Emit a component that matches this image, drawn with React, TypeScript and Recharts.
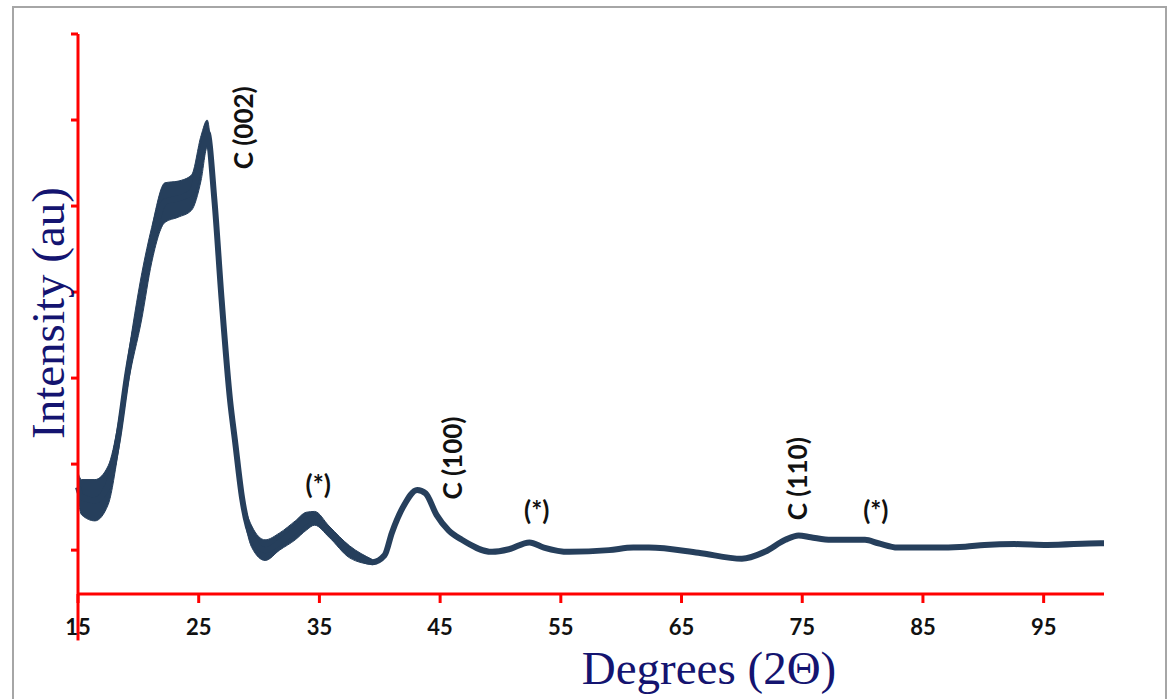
import React from "react";
import {
  ComposedChart,
  Line,
  Area,
  XAxis,
  YAxis,
  ReferenceDot,
  ReferenceLine,
} from "recharts";

// 2-theta positions (degrees)
const twoTheta = [
  15, 15.3, 16.4, 17.5, 18.3, 19.1, 20.3, 21.1, 22.2, 23.3, 24.4, 25.2, 25.7,
  26.3, 26.9, 27.6, 28.0, 28.6, 29.4, 30.5, 31.7, 33.0, 33.9, 34.6, 35.8, 37.5,
  39.4, 40.4, 41.0, 42.0, 43.1, 43.8, 44.7, 45.7, 46.8, 49.3, 50.7, 52.4, 53.6,
  55.7, 59.0, 61.0, 62.3, 66.4, 70.0, 71.9, 73.6, 74.7, 75.7, 77.4, 80.2, 81.3,
  82.9, 85.7, 88.5, 90.1, 92.6, 95.3, 99.7, 100,
];

// measured intensity (arbitrary units)
const intensity = [
  73, 62, 58, 76, 128, 206, 296, 355, 405, 409, 416, 456, 486, 407, 291, 174,
  128, 60, 15, 0, 9, 23, 34, 37, 22, -1, -14, -6, 20, 52, 70, 66, 41, 23, 12,
  -2, 1, 9, 3, -2, 0, 3, 3, -3, -10, -2, 12, 17, 15, 12, 12, 8, 3, 3, 4, 6, 7,
  6, 8, 8,
];

// noise envelope of the raw scan, low-angle region (first 27 points)
const noiseHigh = [
  90, 82, 82, 98, 145, 221, 323, 375, 427, 429, 436, 482, 500, 416, 297, 180,
  134, 67, 28, 12, 20, 34, 44, 45, 28, 5, -11,
];
const noiseLow = [
  58, 41, 34, 53, 111, 189, 270, 334, 381, 387, 395, 430, 468, 398, 284, 169,
  122, 53, 3, -12, 0, 12, 23, 29, 15, -9, -17,
];

const xTicks = [15, 25, 35, 45, 55, 65, 75, 85, 95];
const yTicks = [0, 100, 200, 300, 400, 500, 600];

const peakLabels = [
  { x: 28.67, y: 491, text: "C (002)", vertical: true },
  { x: 34.9, y: 77, text: "(*)", vertical: false },
  { x: 46.0, y: 107, text: "C (100)", vertical: true },
  { x: 53.0, y: 47, text: "(*)", vertical: false },
  { x: 74.6, y: 83, text: "C (110)", vertical: true },
  { x: 81.1, y: 47, text: "(*)", vertical: false },
];

const data = twoTheta.map((t, i) => ({
  t,
  v: intensity[i],
  band: i < noiseHigh.length ? [noiseLow[i], noiseHigh[i]] : null,
}));

const RED = "#ff0000";
const LINE = "#263f5c";

function XTick(props: any) {
  const { x, y, payload } = props;
  return (
    <text
      x={x}
      y={y + 30}
      textAnchor="middle"
      fontFamily="Lato, 'Open Sans', sans-serif"
      fontWeight="bold"
      fontSize={22}
      fill="#111"
    >
      {payload.value}
    </text>
  );
}

function NoTick() {
  return <g />;
}

function PeakText(props: any) {
  const { cx, cy, text, vertical } = props;
  return (
    <text
      x={cx}
      y={cy}
      transform={vertical ? `rotate(-90 ${cx} ${cy})` : undefined}
      textAnchor="middle"
      dominantBaseline="central"
      fontFamily="Lato, 'Open Sans', sans-serif"
      fontWeight="bold"
      fontSize={26}
      fill="#111"
    >
      {text}
    </text>
  );
}

export default function App() {
  return (
    <div style={{ position: "absolute", left: 0, top: 0, width: 1167, height: 699, background: "#fff", overflow: "hidden" }}>
      <div
        style={{
          position: "absolute",
          left: 12,
          top: 6,
          width: 1151,
          height: 720,
          border: "2px solid #a6a6a6",
        }}
      />
      <ComposedChart
        width={1167}
        height={699}
        data={data}
        margin={{ top: 34, right: 63, bottom: 55, left: 68 }}
        style={{ position: "absolute", left: 0, top: 0 }}
      >
        <XAxis
          dataKey="t"
          type="number"
          domain={[15, 100]}
          ticks={xTicks}
          height={50}
          axisLine={{ stroke: RED, strokeWidth: 3 }}
          tickLine={{ stroke: RED, strokeWidth: 3 }}
          tickSize={9}
          tick={<XTick />}
          interval={0}
        />
        <YAxis
          type="number"
          domain={[-51, 600]}
          ticks={yTicks}
          width={10}
          axisLine={{ stroke: RED, strokeWidth: 3 }}
          tickLine={{ stroke: RED, strokeWidth: 3 }}
          tickSize={7}
          tick={<NoTick />}
          allowDataOverflow
        />
        <ReferenceLine
          segment={[
            { x: 15, y: -51 },
            { x: 15, y: -105 },
          ]}
          stroke={RED}
          strokeWidth={3}
          ifOverflow="visible"
        />
        <Area
          dataKey="band"
          type="monotone"
          stroke={LINE}
          strokeWidth={1}
          fill={LINE}
          fillOpacity={1}
          isAnimationActive={false}
          connectNulls={false}
          activeDot={false}
        />
        <Line
          dataKey="v"
          stroke={LINE}
          strokeWidth={6}
          dot={false}
          type="monotone"
          isAnimationActive={false}
          activeDot={false}
        />
        {peakLabels.map((p) => (
          <ReferenceDot
            key={p.text + p.x}
            x={p.x}
            y={p.y}
            r={0}
            ifOverflow="visible"
            shape={(sp: any) => <PeakText {...sp} text={p.text} vertical={p.vertical} />}
          />
        ))}
      </ComposedChart>
      <div
        style={{
          position: "absolute",
          left: 48,
          top: 313,
          transform: "translate(-50%, -50%) rotate(-90deg)",
          fontFamily: "'Liberation Serif', 'Times New Roman', serif",
          fontSize: 47,
          color: "#141470",
          whiteSpace: "nowrap",
          lineHeight: 1,
        }}
      >
        Intensity (au)
      </div>
      <div
        style={{
          position: "absolute",
          left: 709,
          top: 669,
          transform: "translate(-50%, -50%)",
          fontFamily: "'Liberation Serif', 'Times New Roman', serif",
          fontSize: 47,
          color: "#141470",
          whiteSpace: "nowrap",
          lineHeight: 0.8,
        }}
      >
        Degrees (2Θ)
      </div>
    </div>
  );
}
